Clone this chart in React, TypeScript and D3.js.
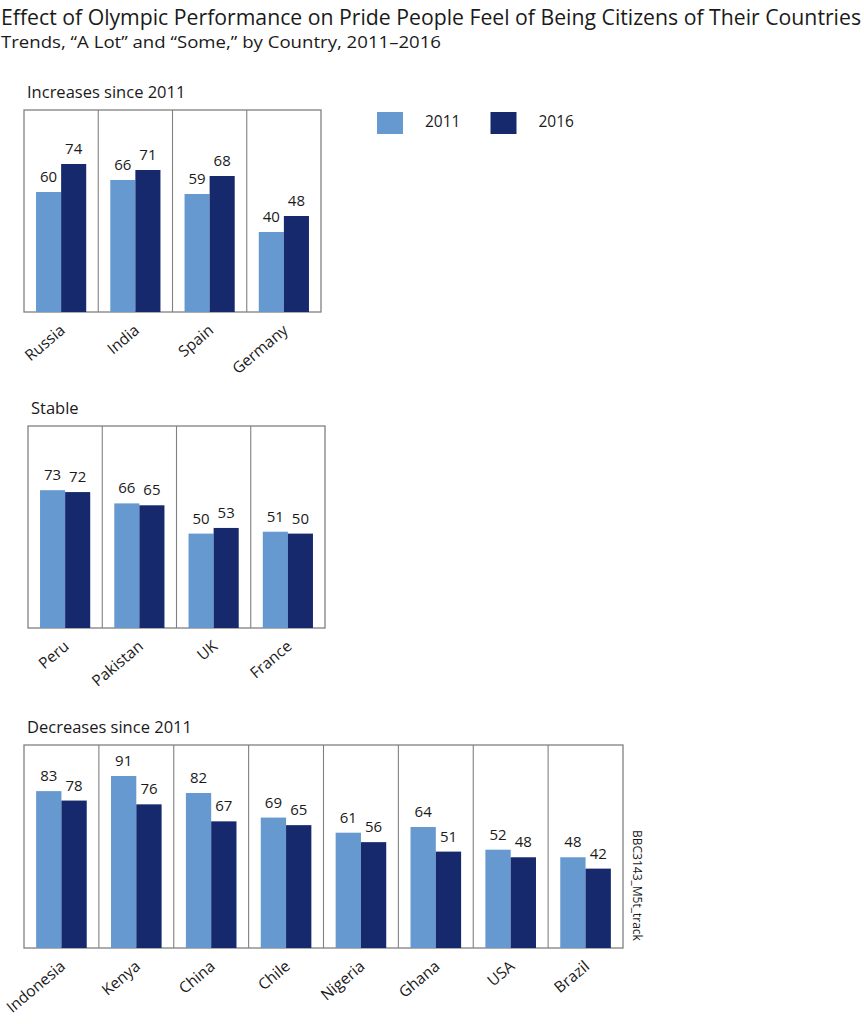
import React from "react";
import * as d3 from "d3";

const increaseCountries = ["Russia", "India", "Spain", "Germany"];
const increase2011 = [60, 66, 59, 40];
const increase2016 = [74, 71, 68, 48];

const stableCountries = ["Peru", "Pakistan", "UK", "France"];
const stable2011 = [73, 66, 50, 51];
const stable2016 = [72, 65, 53, 50];

const decreaseCountries = ["Indonesia", "Kenya", "China", "Chile", "Nigeria", "Ghana", "USA", "Brazil"];
const decrease2011 = [83, 91, 82, 69, 61, 64, 52, 48];
const decrease2016 = [78, 76, 67, 65, 56, 51, 48, 42];

const years = ["2011", "2016"];
const colors = ["#6699cf", "#15296c"];
const font = "'Open Sans', 'Noto Sans', sans-serif";
const ink = "#1a1a1a";

const Panel = ({ title, left, right, top, bottom, yMax, categories, a, b }) => {
  const x = d3.scaleBand().domain(categories).range([left, right]).paddingInner(0).paddingOuter(0);
  const inner = d3.scaleBand().domain(years).range([0, x.bandwidth()]).paddingInner(0).paddingOuter(0.48);
  const y = d3.scaleLinear().domain([0, yMax]).range([bottom, top]);

  return (
    <g>
      <text x={left + 3} y={top - 12} fontSize={16.5} fill={ink} fontFamily={font}>
        {title}
      </text>
      <rect x={left} y={top} width={right - left} height={bottom - top} fill="none" stroke="#808080" strokeWidth={1.3} />
      {categories.map((c, i) => {
        const x0 = x(c);
        const vals = [a[i], b[i]];
        return (
          <g key={c}>
            {i > 0 && <line x1={x0} x2={x0} y1={top} y2={bottom} stroke="#808080" strokeWidth={1.1} />}
            {vals.map((v, j) => {
              const bx = x0 + inner(years[j]);
              return (
                <g key={j}>
                  <rect x={bx} y={y(v)} width={inner.bandwidth()} height={bottom - y(v)} fill={colors[j]} />
                  <text x={bx + inner.bandwidth() / 2} y={y(v) - 10} textAnchor="middle" fontSize={15} fill={ink} fontFamily={font}>
                    {v}
                  </text>
                </g>
              );
            })}
            <text
              transform={`translate(${x0 + x.bandwidth() / 2 + 5},${bottom + 20}) rotate(-40)`}
              textAnchor="end"
              fontSize={15.5}
              fill={ink}
              fontFamily={font}
            >
              {c}
            </text>
          </g>
        );
      })}
    </g>
  );
};

export default function App() {
  return (
    <svg width={864} height={1024} style={{ position: "absolute", left: 0, top: 0, background: "#fff" }}>
      <text x={1} y={25} fontSize={21} fill={ink} fontFamily={font} textLength={860} lengthAdjust="spacingAndGlyphs">
        Effect of Olympic Performance on Pride People Feel of Being Citizens of Their Countries
      </text>
      <text x={1} y={48} fontSize={17} fill={ink} fontFamily={font} textLength={440} lengthAdjust="spacingAndGlyphs">
        Trends, “A Lot” and “Some,” by Country, 2011–2016
      </text>

      {years.map((yr, i) => (
        <g key={yr}>
          <rect x={377 + i * 113.5} y={112} width={26} height={22} fill={colors[i]} />
          <text x={425 + i * 113.5} y={127} fontSize={15.5} fill={ink} fontFamily={font}>
            {yr}
          </text>
        </g>
      ))}

      <Panel title="Increases since 2011" left={24} right={321} top={110} bottom={312} yMax={101}
        categories={increaseCountries} a={increase2011} b={increase2016} />
      <Panel title="Stable" left={28} right={325} top={426} bottom={628} yMax={107}
        categories={stableCountries} a={stable2011} b={stable2016} />
      <Panel title="Decreases since 2011" left={24} right={623} top={745} bottom={948} yMax={107.4}
        categories={decreaseCountries} a={decrease2011} b={decrease2016} />

      <text transform="translate(633,830) rotate(90)" fontSize={12} fill={ink} fontFamily={font}>
        BBC3143_M5t_track
      </text>
    </svg>
  );
}
